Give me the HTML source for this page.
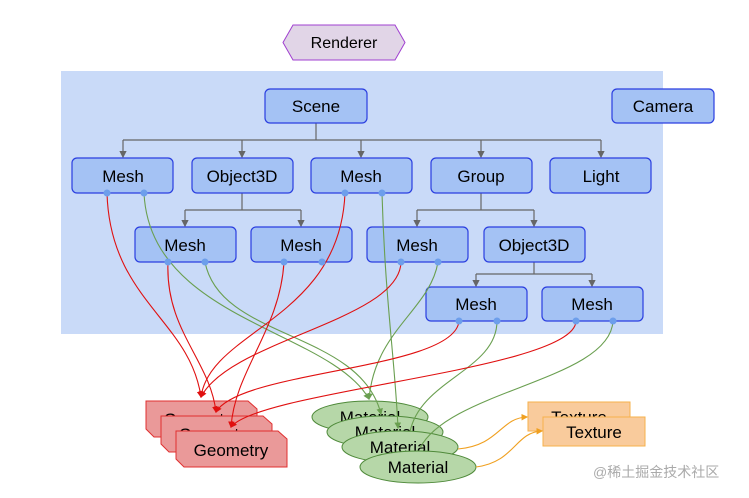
<!DOCTYPE html>
<html><head><meta charset="utf-8"><style>
html,body{margin:0;padding:0;background:#fff;}
svg{display:block;font-family:"Liberation Sans",Arial,sans-serif;}
</style></head><body>
<svg width="749" height="498" viewBox="0 0 749 498" xmlns="http://www.w3.org/2000/svg">
<defs>
<marker id="ag" markerWidth="6" markerHeight="6" refX="5" refY="3" orient="auto"><path d="M0,0 L6,3 L0,6 z" fill="#666"/></marker>
<marker id="ar" markerWidth="6" markerHeight="6" refX="5" refY="3" orient="auto"><path d="M0,0 L6,3 L0,6 z" fill="#e01010"/></marker>
<marker id="agr" markerWidth="6" markerHeight="6" refX="5" refY="3" orient="auto"><path d="M0,0 L6,3 L0,6 z" fill="#6a9f50"/></marker>
<marker id="ao" markerWidth="6" markerHeight="6" refX="5" refY="3" orient="auto"><path d="M0,0 L6,3 L0,6 z" fill="#f0a020"/></marker>
</defs>
<rect x="61" y="71" width="602" height="263" fill="#c9daf8"/>
<polygon points="293,25 395,25 405,42.5 395,60 293,60 283,42.5" fill="#e1d5e7" stroke="#a040d0" stroke-width="1"/>
<text x="344" y="48" font-size="16" text-anchor="middle">Renderer</text>

<g stroke="#666" stroke-width="1.2" fill="none">
<path d="M316,123 V140 M123,140 H601"/>
<path d="M123,140 V157" marker-end="url(#ag)"/><path d="M242,140 V157" marker-end="url(#ag)"/><path d="M361,140 V157" marker-end="url(#ag)"/><path d="M481,140 V157" marker-end="url(#ag)"/><path d="M601,140 V157" marker-end="url(#ag)"/>
<path d="M242,193 V210 M185,210 H301"/>
<path d="M185,210 V226" marker-end="url(#ag)"/><path d="M301,210 V226" marker-end="url(#ag)"/>
<path d="M481,193 V210 M417,210 H534"/>
<path d="M417,210 V226" marker-end="url(#ag)"/><path d="M534,210 V226" marker-end="url(#ag)"/>
<path d="M534,262 V274 M476,274 H592"/>
<path d="M476,274 V286" marker-end="url(#ag)"/><path d="M592,274 V286" marker-end="url(#ag)"/>
</g>

<g fill="#a4c2f4" stroke="#2a3ee0" stroke-width="1.2">
<rect x="265" y="89" width="102" height="34" rx="5"/>
<rect x="612" y="89" width="102" height="34" rx="5"/>
<rect x="72" y="158" width="101" height="35" rx="5"/>
<rect x="192" y="158" width="101" height="35" rx="5"/>
<rect x="311" y="158" width="101" height="35" rx="5"/>
<rect x="431" y="158" width="101" height="35" rx="5"/>
<rect x="550" y="158" width="101" height="35" rx="5"/>
<rect x="135" y="227" width="101" height="35" rx="5"/>
<rect x="251" y="227" width="101" height="35" rx="5"/>
<rect x="367" y="227" width="101" height="35" rx="5"/>
<rect x="484" y="227" width="101" height="35" rx="5"/>
<rect x="426" y="287" width="101" height="34" rx="5"/>
<rect x="542" y="287" width="101" height="34" rx="5"/>
</g>
<g font-size="17" text-anchor="middle" fill="#000">
<text x="316" y="112">Scene</text><text x="663" y="112">Camera</text>
<text x="123" y="182">Mesh</text><text x="242" y="182">Object3D</text><text x="361" y="182">Mesh</text><text x="481" y="182">Group</text><text x="601" y="182">Light</text>
<text x="185" y="251">Mesh</text><text x="301" y="251">Mesh</text><text x="417" y="251">Mesh</text><text x="534" y="251">Object3D</text>
<text x="476" y="310">Mesh</text><text x="592" y="310">Mesh</text>
</g>

<g font-size="17" text-anchor="middle">
<polygon points="146,401 248,401 257,409 257,437 154,437 146,429" fill="#ea9999" stroke="#e03030"/>
<text x="201" y="425">Geometry</text>
<polygon points="161,416 263,416 272,424 272,452 169,452 161,444" fill="#ea9999" stroke="#e03030"/>
<text x="216" y="440">Geometry</text>
<polygon points="176,431 278,431 287,439 287,467 184,467 176,459" fill="#ea9999" stroke="#e03030"/>
<text x="231" y="456">Geometry</text>

<ellipse cx="370" cy="417" rx="58" ry="16" fill="#b6d7a8" stroke="#4f8a3a"/>
<text x="370" y="423">Material</text>
<ellipse cx="385" cy="432" rx="58" ry="16" fill="#b6d7a8" stroke="#4f8a3a"/>
<text x="385" y="438">Material</text>
<ellipse cx="400" cy="447" rx="58" ry="16" fill="#b6d7a8" stroke="#4f8a3a"/>
<text x="400" y="453">Material</text>
<ellipse cx="418" cy="467" rx="58" ry="16" fill="#b6d7a8" stroke="#4f8a3a"/>
<text x="418" y="473">Material</text>

<rect x="528" y="402" width="102" height="29" fill="#f9cb9c" stroke="#f6b04b"/>
<text x="579" y="423">Texture</text>
<rect x="543" y="417" width="102" height="29" fill="#f9cb9c" stroke="#f6b04b"/>
<text x="594" y="438">Texture</text>
</g>

<g fill="none" stroke-width="1.1">
<g stroke="#6a9f50">
<path d="M144,193 C150,320 330,330 369,399" marker-end="url(#agr)"/>
<path d="M382,193 C385,300 395,360 398,428" marker-end="url(#agr)"/>
<path d="M205,262 C220,340 360,330 381,414" marker-end="url(#agr)"/>
<path d="M438,262 C430,310 375,330 369,399" marker-end="url(#agr)"/>
<path d="M497,321 C497,370 420,380 410,432"/>
<path d="M613,321 C610,380 450,390 420,448"/>
</g>
<g stroke="#e01010">
<path d="M107,193 C110,300 190,320 201,397" marker-end="url(#ar)"/>
<path d="M345,193 C340,320 210,330 201,397" marker-end="url(#ar)"/>
<path d="M168,262 C165,330 210,360 216,412" marker-end="url(#ar)"/>
<path d="M284,262 C280,330 235,370 231,427" marker-end="url(#ar)"/>
<path d="M401,262 C400,320 230,340 201,397" marker-end="url(#ar)"/>
<path d="M459,321 C455,370 240,370 216,412" marker-end="url(#ar)"/>
<path d="M576,321 C575,370 260,390 231,427" marker-end="url(#ar)"/>
</g>
<g stroke="#f0a020">
<path d="M458,449 C500,445 500,418 527,417" marker-end="url(#ao)"/>
<path d="M476,467 C515,462 515,432 542,431" marker-end="url(#ao)"/>
</g>
</g>
<g fill="#6d9eeb">
<circle cx="107" cy="193" r="3.5"/><circle cx="144" cy="193" r="3.5"/>
<circle cx="345" cy="193" r="3.5"/><circle cx="382" cy="193" r="3.5"/>
<circle cx="168" cy="262" r="3.5"/><circle cx="205" cy="262" r="3.5"/>
<circle cx="284" cy="262" r="3.5"/><circle cx="322" cy="262" r="3.5"/>
<circle cx="401" cy="262" r="3.5"/><circle cx="438" cy="262" r="3.5"/>
<circle cx="459" cy="321" r="3.5"/><circle cx="497" cy="321" r="3.5"/>
<circle cx="576" cy="321" r="3.5"/><circle cx="613" cy="321" r="3.5"/>
</g>

<text x="593" y="477" font-size="14" fill="#aaa" font-family="'Liberation Sans','Noto Sans CJK SC',sans-serif">@稀土掘金技术社区</text>
</svg>
</body></html>
